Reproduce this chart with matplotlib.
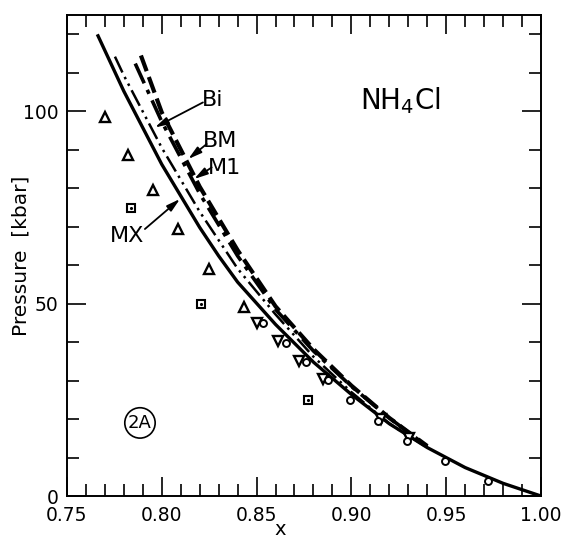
import matplotlib
matplotlib.use("Agg")
import matplotlib.pyplot as plt
from matplotlib.ticker import MultipleLocator

plt.rcParams['font.family'] = ['DejaVu Sans']

# Equation-of-state curves, pressure (kbar) against compression x
x_mx = [0.766, 0.78, 0.80, 0.82, 0.83, 0.84, 0.86, 0.88, 0.90, 0.92, 0.94, 0.96, 0.98, 1.00]
p_mx = [120.0, 105.2, 86.2, 69.8, 62.4, 55.6, 44.6, 34.8, 26.4, 18.8, 12.6, 7.4, 3.3, 0.0]

x_bi = [0.7753, 0.78, 0.80, 0.82, 0.84, 0.86, 0.88, 0.90, 0.92, 0.94]
p_bi = [114.2, 109.3, 90.5, 73.9, 59.1, 47.2, 36.2, 27.0, 18.8, 12.6]

x_bm = [0.786, 0.80, 0.82, 0.84, 0.86, 0.88, 0.90, 0.92, 0.94]
p_bm = [112.4, 97.3, 78.6, 62.4, 48.5, 37.7, 28.5, 20.3, 12.9]

x_m1 = [0.789, 0.80, 0.82, 0.84, 0.86, 0.88, 0.90, 0.92, 0.94]
p_m1 = [114.5, 99.7, 80.4, 63.9, 49.3, 38.2, 28.7, 20.3, 13.0]

# Measured points
x_tri_up = [0.7700, 0.7820, 0.7952, 0.8084, 0.8251, 0.8435]
p_tri_up = [98.6, 88.6, 79.5, 69.4, 59.0, 49.2]

x_square = [0.7838, 0.8205, 0.8773]
p_square = [74.8, 50.0, 24.9]

x_tri_dn = [0.8500, 0.8611, 0.8724, 0.8852, 0.9155, 0.9305]
p_tri_dn = [45.1, 40.3, 35.1, 30.3, 20.0, 15.0]

x_circle = [0.8535, 0.8653, 0.8759, 0.8878, 0.8993, 0.9139, 0.9295, 0.9494, 0.9722]
p_circle = [45.1, 39.8, 34.8, 30.1, 24.9, 19.6, 14.4, 9.2, 4.0]

x_ticks = [0.75, 0.80, 0.85, 0.90, 0.95, 1.00]
x_tick_labels = ["0.75", "0.80", "0.85", "0.90", "0.95", "1.00"]
y_ticks = [0, 50, 100]

fig = plt.figure(figsize=(5.61, 5.49), dpi=100)
ax = fig.add_axes([0.1194, 0.0965, 0.8449, 0.876])

ax.plot(x_mx, p_mx, color='black', lw=2.4, ls='-', solid_capstyle='butt')
ax.plot(x_bi, p_bi, color='black', lw=1.8, ls=(0, (7, 2, 1, 2, 1, 2)))
ax.plot(x_bm, p_bm, color='black', lw=2.6, ls=(0, (6, 2, 1.2, 2)))
ax.plot(x_m1, p_m1, color='black', lw=3.0, ls=(0, (4, 1.5)))

ax.plot(x_tri_up, p_tri_up, ls='none', marker='^', ms=7.5, mfc='white', mec='black', mew=1.7)
ax.plot(x_square, p_square, ls='none', marker='s', ms=6, mfc='white', mec='black', mew=1.5)
ax.plot(x_square, p_square, ls='none', marker='.', ms=2.5, color='black')
ax.plot(x_tri_dn, p_tri_dn, ls='none', marker='v', ms=7.5, mfc='white', mec='black', mew=1.7)
ax.plot(x_circle, p_circle, ls='none', marker='o', ms=5, mfc='white', mec='black', mew=1.4)

ax.set_xlim(0.75, 1.00)
ax.set_ylim(0, 125)

ax.set_xticks(x_ticks)
ax.set_xticklabels(x_tick_labels)
ax.xaxis.set_minor_locator(MultipleLocator(0.01))
ax.set_yticks(y_ticks)
ax.yaxis.set_minor_locator(MultipleLocator(10))
ax.tick_params(which='both', direction='in', top=True, right=True, width=1.2,
               labelsize=13.5)
ax.tick_params(axis='x', which='major', pad=7)
ax.tick_params(axis='y', which='major', pad=6)
ax.tick_params(which='major', length=14)
ax.tick_params(which='minor', length=8.5)
for s in ax.spines.values():
    s.set_linewidth(1.4)

ax.set_xlabel("x", fontsize=14)
ax.xaxis.set_label_coords(0.45, -0.05)
ax.set_ylabel("Pressure  [kbar]", fontsize=14.5, va='center')
ax.yaxis.set_label_coords(-0.097, 0.5)

ax.text(0.9256, 102.8, "NH$_4$Cl", fontsize=20, ha='center', va='center')

arrow = dict(arrowstyle='-|>,head_length=0.8,head_width=0.22', color='black', lw=1.3,
             shrinkA=0, shrinkB=0)
ax.annotate("", xy=(0.7964, 95.8), xytext=(0.8217, 102.3), arrowprops=arrow)
ax.annotate("", xy=(0.8140, 87.6), xytext=(0.8237, 91.5), arrowprops=arrow)
ax.annotate("", xy=(0.8171, 82.4), xytext=(0.8263, 85.4), arrowprops=arrow)
ax.annotate("", xy=(0.8096, 77.2), xytext=(0.7911, 69.4), arrowprops=arrow)
ax.text(0.8270, 103.0, "Bi", fontsize=16, ha='center', va='center')
ax.text(0.8307, 92.2, "BM", fontsize=16, ha='center', va='center')
ax.text(0.8330, 85.3, "M1", fontsize=16, ha='center', va='center')
ax.text(0.7819, 67.6, "MX", fontsize=16, ha='center', va='center')

ax.text(0.7885, 19.0, "2A", fontsize=13, ha='center', va='center',
        bbox=dict(boxstyle='circle,pad=0.18', fc='white', ec='black', lw=1.2))

fig.savefig("out.png", dpi=100)
